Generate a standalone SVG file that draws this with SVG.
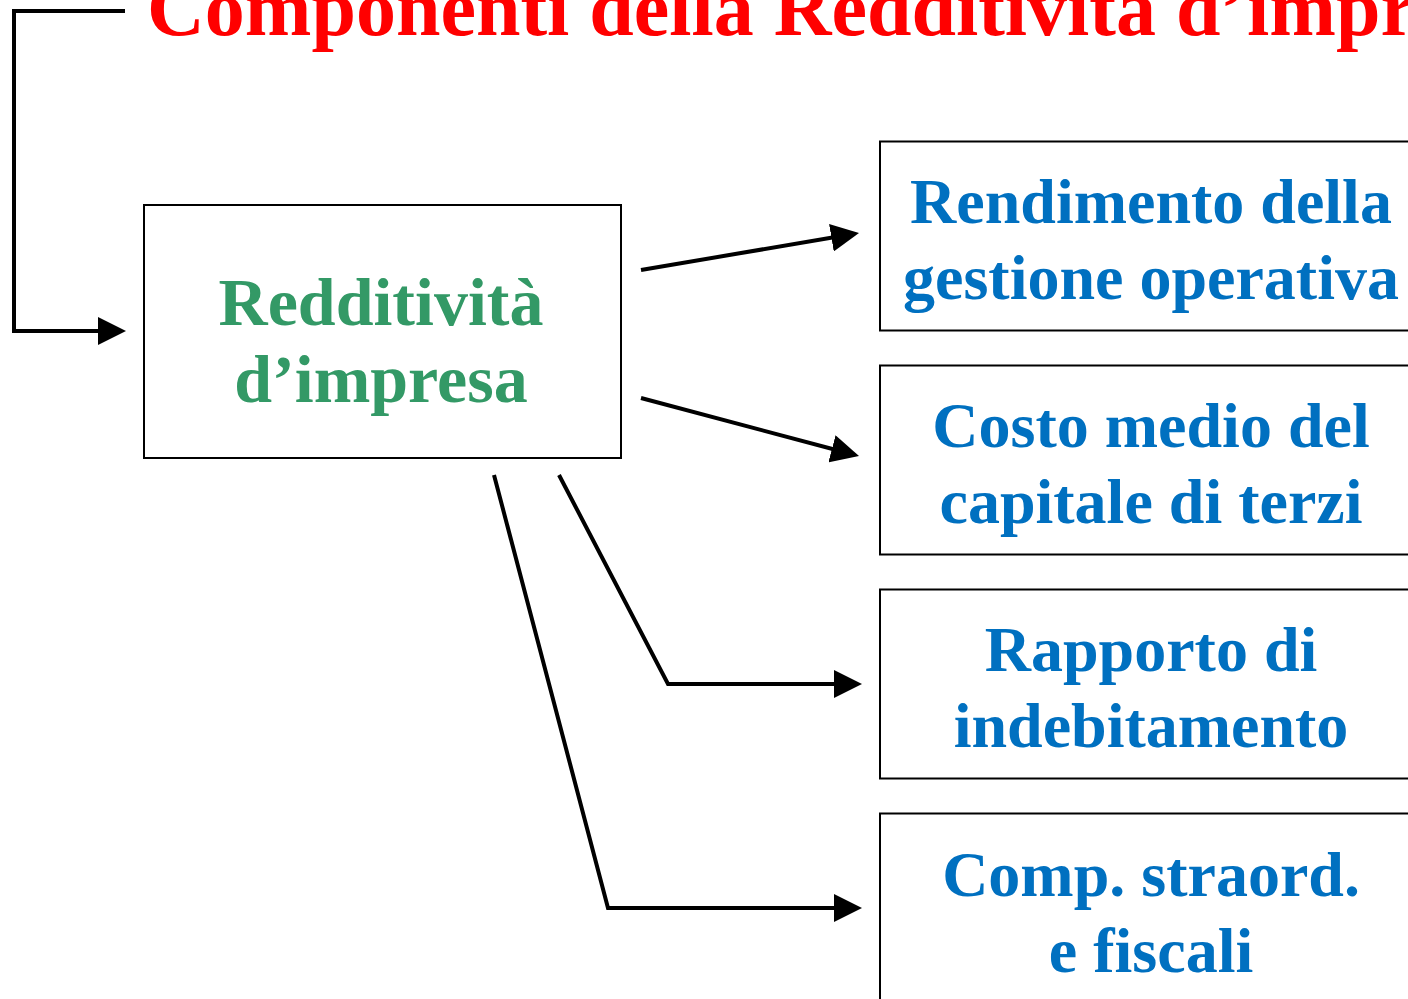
<svg xmlns="http://www.w3.org/2000/svg" width="1408" height="999" viewBox="0 0 1408 999">
<style>
.box{fill:#fff;stroke:#000;stroke-width:2}
.lbl{font-family:"Liberation Serif","Times New Roman",serif;font-weight:bold;text-anchor:middle}
.blue{fill:#0070C0;font-size:64px}
.green{fill:#339966;font-size:68px}
.title{font-family:"Liberation Serif","Times New Roman",serif;font-weight:bold;fill:#FF0000;font-size:80px}
.conn{fill:none;stroke:#000;stroke-width:4;stroke-linejoin:miter}
</style>
<defs>
<marker id="arr" markerUnits="userSpaceOnUse" markerWidth="28" markerHeight="28" refX="22" refY="14" orient="auto" viewBox="0 0 28 28">
<path d="M0,0 L28,14 L0,28 Z" fill="#000"/>
</marker>
</defs>
<rect width="1408" height="999" fill="#fff"/>
<g id="title">
<text class="title" x="147" y="35">Componenti della Redditività d’impresa</text>
</g>
<g id="connectors">
<polyline class="conn" points="125,11 14,11 14,331 120,331" marker-end="url(#arr)"/>
<line class="conn" x1="641" y1="270" x2="853.1" y2="234" marker-end="url(#arr)"/>
<line class="conn" x1="641" y1="398" x2="853.2" y2="454.5" marker-end="url(#arr)"/>
<polyline class="conn" points="559,475 668,684 856,684" marker-end="url(#arr)"/>
<polyline class="conn" points="494,475 608,908 856,908" marker-end="url(#arr)"/>
</g>
<g id="node-redditivita">
<rect class="box" x="144" y="205" width="477" height="253"/>
<text class="lbl green" x="381" y="325">Redditività</text>
<text class="lbl green" x="381" y="402">d’impresa</text>
</g>
<g id="node-rendimento">
<rect class="box" x="880" y="141.5" width="545" height="189"/>
<text class="lbl blue" x="1151" y="223">Rendimento della</text>
<text class="lbl blue" x="1151" y="299">gestione operativa</text>
</g>
<g id="node-costo">
<rect class="box" x="880" y="365.5" width="545" height="189"/>
<text class="lbl blue" x="1151" y="447">Costo medio del</text>
<text class="lbl blue" x="1151" y="523">capitale di terzi</text>
</g>
<g id="node-rapporto">
<rect class="box" x="880" y="589.5" width="545" height="189"/>
<text class="lbl blue" x="1151" y="671">Rapporto di</text>
<text class="lbl blue" x="1151" y="747">indebitamento</text>
</g>
<g id="node-comp">
<rect class="box" x="880" y="813.5" width="545" height="189"/>
<text class="lbl blue" x="1151" y="896">Comp. straord.</text>
<text class="lbl blue" x="1151" y="972">e fiscali</text>
</g>
</svg>
